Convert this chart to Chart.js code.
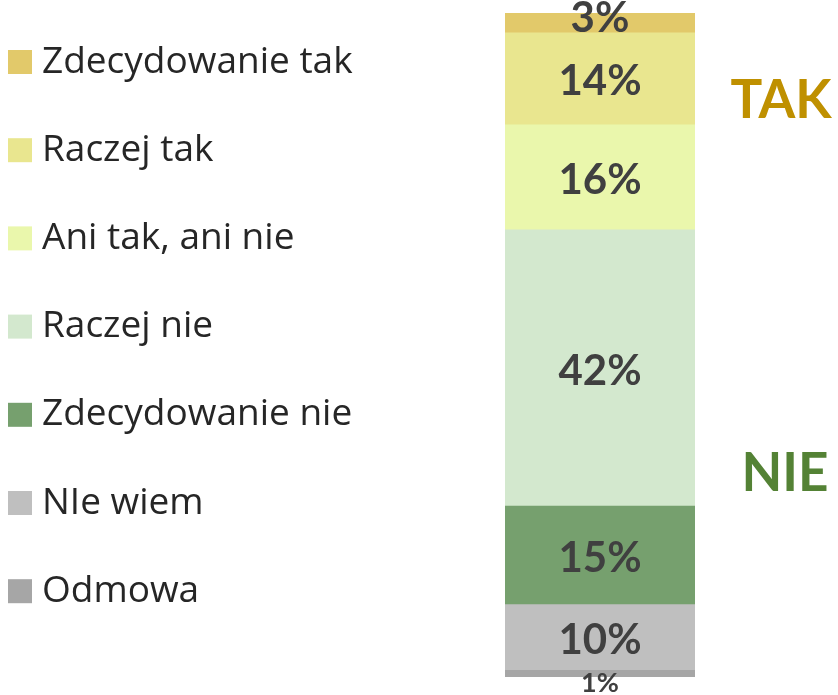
<!DOCTYPE html>
<html>
<head>
<meta charset="utf-8">
<script src="https://cdn.jsdelivr.net/npm/chart.js@4"></script>
<style>
html,body{margin:0;padding:0;background:#fff;}
canvas{display:block;}
</style>
</head>
<body>
<canvas id="c" width="838" height="695"></canvas>
<script>
const categories = ['Ogółem'];
const seriesNames = ['Zdecydowanie tak','Raczej tak','Ani tak, ani nie','Raczej nie','Zdecydowanie nie','NIe wiem','Odmowa'];
const seriesValues = [3,14,16,42,15,10,1];
const seriesColors = ['#E2C96A','#E9E68F','#EAF7AC','#D3E8CE','#76A06E','#BFBFBF','#A6A6A6'];
const groupLabels = ['TAK','NIE'];
const groupColors = ['#BF9000','#548235'];

const FONT = 'Lato, "Open Sans", sans-serif';
const LEGEND_FONT = '"Open Sans", Lato, sans-serif';

// Stack from bottom: reverse order
const datasets = seriesNames.map((name, i) => ({
  label: name,
  data: [seriesValues[i]],
  backgroundColor: seriesColors[i],
  borderWidth: 0,
  barPercentage: 1,
  categoryPercentage: 1
})).reverse();

const overlay = {
  id: 'overlay',
  afterDatasetsDraw(chart) {
    const ctx = chart.ctx;
    ctx.save();
    // data labels
    chart.data.datasets.forEach((ds, di) => {
      const meta = chart.getDatasetMeta(di);
      const bar = meta.data[0];
      const v = ds.data[0];
      const cx = bar.x;
      let cy = (bar.y + bar.base) / 2;
      ctx.fillStyle = '#404040';
      ctx.textAlign = 'center';
      ctx.textBaseline = 'middle';
      if (v < 2) {
        ctx.font = 'bold 27px ' + FONT;
        cy = bar.base + 6;
      } else {
        ctx.font = 'bold 42px ' + FONT;
        cy += (v < 5) ? -4 : 3;
      }
      ctx.fillText(v + '%', cx, cy);
    });
    // legend
    seriesNames.forEach((name, i) => {
      const y = 62 + i * 88.2;
      ctx.fillStyle = seriesColors[i];
      ctx.fillRect(8, y - 12, 24, 24);
      ctx.fillStyle = '#262626';
      ctx.font = '37px ' + LEGEND_FONT;
      ctx.textAlign = 'left';
      ctx.textBaseline = 'middle';
      ctx.fillText(name, 42, y);
    });
    // group labels
    ctx.font = 'bold 53px ' + FONT;
    ctx.textAlign = 'center';
    ctx.textBaseline = 'middle';
    ctx.fillStyle = groupColors[0];
    ctx.fillText(groupLabels[0], 781, 101);
    ctx.fillStyle = groupColors[1];
    ctx.fillText(groupLabels[1], 785, 474);
    ctx.restore();
  }
};

new Chart(document.getElementById('c'), {
  type: 'bar',
  data: { labels: categories, datasets },
  options: {
    responsive: false,
    animation: false,
    layout: { padding: { left: 505, right: 143, top: 13, bottom: 18 } },
    plugins: { legend: { display: false }, tooltip: { enabled: false } },
    scales: {
      x: { stacked: true, display: false },
      y: { stacked: true, display: false, min: 0, max: 101 }
    }
  },
  plugins: [overlay]
});
</script>
</body>
</html>
